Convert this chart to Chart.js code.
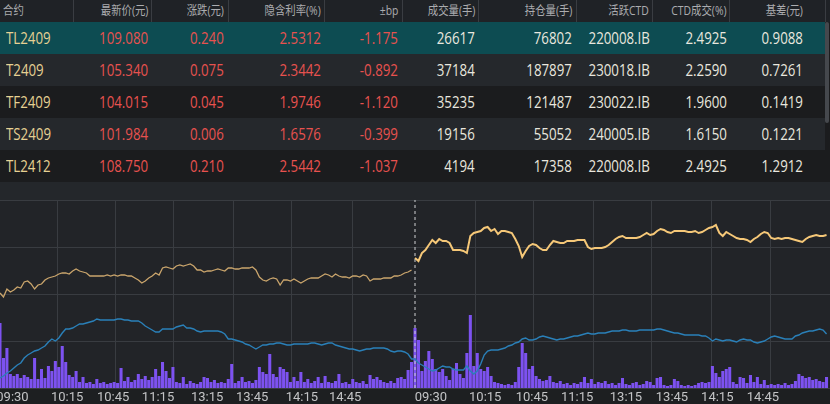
<!DOCTYPE html>
<html lang="zh-CN">
<head>
<meta charset="utf-8">
<title>国债期货</title>
<script src="https://cdn.jsdelivr.net/npm/chart.js@4.4.1/dist/chart.umd.min.js"></script>
<style>
    body {
        margin: 0;
        width: 830px;
        height: 404px;
        overflow: hidden;
        background: #222428;
        font-family: "Open Sans", "Noto Sans CJK SC", sans-serif;
    }
    #quote {
        position: absolute;
        left: 0;
        top: 0;
        width: 830px;
        height: 182px;
        background: #1b1c1e;
    }
    .row {
        position: absolute;
        left: 0;
        width: 825px;
        height: 32px;
        line-height: 32px;
        font-size: 16px;
    }
    .head {
        position: absolute;
        left: 0;
        top: 0;
        width: 830px;
        height: 22px;
        line-height: 22px;
        font-size: 12.5px;
        color: #abacaf;
        background: #1f2226;
    }
    .cell {
        position: absolute;
        top: 0;
        height: 100%;
        text-align: right;
        white-space: nowrap;
        box-sizing: border-box;
    }
    .cell span {
        display: inline-block;
        transform: scaleX(.83);
        transform-origin: 100% 50%;
    }
    .cell.first {
        text-align: left;
    }
    .cell.first span {
        transform-origin: 0 50%;
    }
    .sep {
        position: absolute;
        top: 0;
        width: 1px;
        height: 22px;
        background: #3a3d42;
    }
    #scroll {
        position: absolute;
        left: 825px;
        top: 22px;
        width: 4px;
        height: 101px;
        background: #45484d;
        border-radius: 2px;
    }
    #gap {
        position: absolute;
        left: 0;
        top: 182px;
        width: 830px;
        height: 18px;
        background: #24272b;
    }
    #tickBand {
        position: absolute;
        left: 0;
        top: 388px;
        width: 830px;
        height: 16px;
        background: #1d1f21;
    }
    #chartBox {
        position: absolute;
        left: 0;
        top: 199px;
        width: 830px;
        height: 205px;
    }
</style>
</head>
<body>
<div id="quote"></div>
<div id="gap"></div>
<div id="tickBand"></div>
<div id="chartBox"><canvas id="trendChart"></canvas></div>

<script>
// 行情表
const headers = ['合约', '最新价(元)', '涨跌(元)', '隐含利率(%)', '±bp', '成交量(手)', '持仓量(手)', '活跃CTD', 'CTD成交(%)', '基差(元)'];
const contracts = ['TL2409', 'T2409', 'TF2409', 'TS2409', 'TL2412'];
const lastPrice = ['109.080', '105.340', '104.015', '101.984', '108.750'];
const change = ['0.240', '0.075', '0.045', '0.006', '0.210'];
const impliedRate = ['2.5312', '2.3442', '1.9746', '1.6576', '2.5442'];
const bpChange = ['-1.175', '-0.892', '-1.120', '-0.399', '-1.037'];
const volume = [26617, 37184, 35235, 19156, 4194];
const openInterest = [76802, 187897, 121487, 55052, 17358];
const activeCtd = ['220008.IB', '230018.IB', '230022.IB', '240005.IB', '220008.IB'];
const ctdYield = ['2.4925', '2.2590', '1.9600', '1.6150', '2.4925'];
const basis = ['0.9088', '0.7261', '0.1419', '0.1221', '1.2912'];

// 分时 (TL2409, 两个交易日, 每日120个点)
const tickLabels = ['09:30', '10:15', '10:45', '11:15', '13:15', '13:45', '14:15', '14:45',
                    '09:30', '10:15', '10:45', '11:15', '13:15', '13:45', '14:15', '14:45'];

const trendPrice = [
    108.790, 108.770, 108.810, 108.795, 108.805, 108.820, 108.815, 108.845, 108.850, 108.835,
    108.810, 108.830, 108.835, 108.855, 108.865, 108.870, 108.875, 108.885, 108.890, 108.890,
    108.885, 108.900, 108.910, 108.900, 108.895, 108.890, 108.875, 108.875, 108.875, 108.875,
    108.875, 108.880, 108.875, 108.880, 108.875, 108.880, 108.880, 108.875, 108.875, 108.865,
    108.855, 108.840, 108.850, 108.865, 108.875, 108.890, 108.880, 108.915, 108.920, 108.915,
    108.910, 108.925, 108.930, 108.925, 108.930, 108.935, 108.925, 108.905, 108.905, 108.895,
    108.900, 108.900, 108.905, 108.910, 108.905, 108.900, 108.915, 108.915, 108.910, 108.910,
    108.915, 108.915, 108.915, 108.920, 108.905, 108.870, 108.855, 108.850, 108.860, 108.865,
    108.860, 108.830, 108.855, 108.855, 108.850, 108.860, 108.850, 108.840, 108.850, 108.860,
    108.865, 108.865, 108.865, 108.875, 108.885, 108.880, 108.870, 108.885, 108.875, 108.870,
    108.870, 108.865, 108.875, 108.875, 108.870, 108.880, 108.875, 108.850, 108.860, 108.860,
    108.860, 108.865, 108.865, 108.865, 108.875, 108.875, 108.880, 108.890, 108.895, 108.905,
    108.965, 108.950, 108.990, 109.005, 109.030, 109.055, 109.040, 109.060, 109.050, 109.050,
    109.040, 109.005, 109.005, 109.005, 109.000, 108.990, 109.075, 109.090, 109.095, 109.100,
    109.115, 109.120, 109.100, 109.110, 109.085, 109.100, 109.100, 109.095, 109.090, 109.060,
    109.025, 108.970, 109.000, 109.025, 109.035, 109.030, 109.015, 109.005, 109.005, 109.030,
    109.050, 109.045, 109.040, 109.040, 109.050, 109.050, 109.050, 109.055, 109.055, 109.055,
    109.020, 109.010, 109.015, 109.015, 109.015, 109.020, 109.030, 109.045, 109.060, 109.070,
    109.075, 109.065, 109.065, 109.065, 109.065, 109.070, 109.080, 109.090, 109.080, 109.085,
    109.100, 109.110, 109.105, 109.095, 109.090, 109.100, 109.100, 109.100, 109.100, 109.095,
    109.095, 109.100, 109.090, 109.095, 109.105, 109.115, 109.120, 109.130, 109.090, 109.075,
    109.095, 109.085, 109.075, 109.065, 109.060, 109.060, 109.055, 109.045, 109.060, 109.070,
    109.085, 109.095, 109.090, 109.065, 109.060, 109.065, 109.060, 109.065, 109.065, 109.060,
    109.055, 109.050, 109.045, 109.060, 109.070, 109.075, 109.080, 109.075, 109.075, 109.080
];

const trendOpenInt = [
    72400, 72600, 72900, 73100, 73400, 73700, 73900, 74400, 74700, 74900,
    75100, 75200, 75400, 75600, 76000, 76300, 76100, 76400, 76900, 77300,
    77300, 77400, 77600, 77800, 77800, 77900, 78000, 78100, 78300, 78200,
    78200, 78200, 78200, 78200, 78300, 78300, 78200, 78200, 78100, 78100,
    78100, 77900, 77600, 77400, 77200, 77000, 77000, 77300, 77300, 77300,
    77300, 77500, 77600, 77700, 77400, 77400, 77300, 77100, 77000, 77100,
    77100, 77100, 77100, 77100, 77000, 76800, 76300, 76300, 76200, 76100,
    76000, 75800, 75700, 75500, 75300, 75500, 75700, 75700, 75800, 75800,
    75900, 75900, 75800, 75700, 75700, 75800, 75800, 75800, 75800, 75800,
    75900, 75900, 75800, 75700, 75800, 75900, 75900, 75700, 75600, 75500,
    75400, 75300, 75300, 75200, 75100, 75200, 75300, 75300, 75400, 75400,
    75400, 75400, 75300, 75100, 75000, 75100, 75100, 75000, 74800, 74300,
    74300, 73900, 73700, 73500, 73300, 73100, 73200, 73400, 73600, 73500,
    73500, 73300, 73200, 73200, 73200, 73600, 73100, 72800, 73100, 73800,
    74700, 75100, 75200, 75200, 75200, 75300, 75400, 75600, 75700, 75900,
    76000, 76300, 76400, 76200, 76200, 76300, 76500, 76600, 76500, 76400,
    76300, 76200, 76300, 76300, 76400, 76500, 76600, 76600, 76700, 76800,
    76900, 76800, 76800, 76900, 76900, 76900, 77000, 77100, 77100, 77100,
    77200, 77200, 77100, 77100, 77100, 77200, 77200, 77200, 77200, 77200,
    77300, 77300, 77200, 77100, 77000, 76900, 76900, 76800, 76700, 76700,
    76700, 76700, 76700, 76600, 76600, 76400, 76100, 76300, 76200, 76100,
    76200, 76200, 76100, 76000, 76200, 76300, 76200, 76200, 76000, 75900,
    76000, 76100, 76300, 76500, 76600, 76500, 76400, 76300, 76300, 76300,
    76600, 76700, 76900, 77000, 77100, 77100, 77200, 77300, 77200, 76802
];

const trendVolume = [
    1300, 600, 800, 280, 240, 280, 200, 260, 220, 180,
    600, 180, 380, 200, 440, 340, 540, 420, 840, 520,
    260, 220, 340, 120, 220, 100, 120, 80, 180, 100,
    120, 80, 100, 120, 100, 400, 140, 220, 120, 160,
    280, 180, 240, 160, 220, 380, 240, 520, 340, 200,
    420, 120, 100, 220, 80, 140, 100, 80, 120, 220,
    200, 120, 160, 100, 120, 100, 180, 480, 100, 140,
    220, 120, 140, 100, 160, 420, 320, 280, 680, 280,
    220, 420, 380, 320, 120, 220, 140, 320, 120, 180,
    100, 140, 220, 100, 240, 120, 100, 140, 280, 100,
    120, 80, 180, 120, 100, 140, 80, 260, 180, 220,
    160, 120, 100, 140, 100, 200, 220, 180, 360, 520,
    1200, 960, 340, 540, 740, 580, 380, 320, 380, 240,
    160, 380, 500, 280, 200, 700, 1460, 440, 700, 380,
    340, 420, 240, 120, 100, 80, 60, 80, 60, 120,
    420, 900, 700, 380, 440, 240, 180, 140, 160, 240,
    120, 100, 140, 80, 100, 60, 100, 80, 120, 220,
    100, 180, 80, 120, 100, 140, 80, 100, 60, 100,
    200, 80, 60, 100, 120, 60, 80, 140, 120, 60,
    200, 220, 60, 40, 60, 180, 140, 60, 40, 60,
    40, 60, 100, 120, 100, 120, 440, 300, 220, 340,
    380, 420, 120, 80, 220, 200, 100, 260, 120, 220,
    80, 160, 60, 80, 60, 80, 60, 100, 60, 80,
    140, 280, 240, 200, 220, 160, 180, 140, 120, 220
];

const perDay = 120;

// 表格
const colEdges = [0, 73, 151, 228, 324, 402, 478, 576, 652, 729, 825];
const padRight = [0, 3, 4, 3, 4, 3, 4, 3, 2, 22];
const rowBg = ['#0d4c52', '#25282c', '#1b1c1e', '#25282c', '#1b1c1e'];
const colColor = ['#e6d193', '#e8524f', '#e8524f', '#e8524f', '#e8524f', '#e9e7df', '#e9e7df', '#e9e7df', '#e9e7df', '#e9e7df'];

function cellHtml(text, col, color) {
    const left = colEdges[col];
    const width = colEdges[col + 1] - left;
    const first = col === 0;
    const pad = first ? 'padding-left:' + (color ? 6 : 3) + 'px;' : 'padding-right:' + padRight[col] + 'px;';
    const clr = color ? 'color:' + color + ';' : '';
    return `<div class="cell${first ? ' first' : ''}" style="left:${left}px;width:${width}px;${pad}${clr}"><span>${text}</span></div>`;
}

let quoteHtml = '<div class="head">';
headers.forEach((h, c) => { quoteHtml += cellHtml(h, c, null); });
colEdges.slice(1).forEach(x => { quoteHtml += `<div class="sep" style="left:${x}px"></div>`; });
quoteHtml += '</div>';

contracts.forEach((name, r) => {
    const values = [name, lastPrice[r], change[r], impliedRate[r], bpChange[r],
                    volume[r], openInterest[r], activeCtd[r], ctdYield[r], basis[r]];
    quoteHtml += `<div class="row" style="top:${22 + r * 32}px;background:${rowBg[r]}">`;
    values.forEach((v, c) => { quoteHtml += cellHtml(v, c, colColor[c]); });
    quoteHtml += '</div>';
});
quoteHtml += '<div id="scroll"></div>';
document.getElementById('quote').innerHTML = quoteHtml;

// 分时图
const tickSlots = [3.6, 19.4, 32.7, 45.7, 59.9, 72.9, 87.3, 99.8,
                   124.6, 140.3, 153.8, 166.9, 181, 194.3, 207.4, 220.6];
const gridSlots = [16.5, 33.5, 50.3, 67.4, 84.4, 101.8, 137.4, 154.4, 171.5, 188.5, 205.6, 222.7];
const gridColor = '#393c41';

const toPoints = arr => arr.map((v, i) => ({ x: i, y: v }));

const trendChart = new Chart(document.getElementById('trendChart'), {
    data: {
        datasets: [
            {
                type: 'line',
                data: [{ x: perDay, y: 0 }, { x: perDay, y: 4 }],
                xAxisID: 'x',
                yAxisID: 'yg',
                borderColor: '#cfd0d2',
                borderWidth: 1,
                borderDash: [3, 3],
                pointRadius: 0
            },
            {
                type: 'line',
                label: '最新价',
                data: toPoints(trendPrice),
                xAxisID: 'x',
                yAxisID: 'yp',
                pointRadius: 0,
                borderColor: '#f6c878',
                segment: {
                    borderColor: c => c.p0DataIndex === perDay - 1 ? 'rgba(0,0,0,0)'
                        : (c.p0DataIndex < perDay ? '#caa56c' : '#f6c878'),
                    borderWidth: c => c.p0DataIndex < perDay ? 1.3 : 2
                }
            },
            {
                type: 'line',
                label: '持仓量',
                data: toPoints(trendOpenInt),
                xAxisID: 'x',
                yAxisID: 'yo',
                pointRadius: 0,
                borderColor: '#2a80b9',
                borderWidth: 1.4
            },
            {
                type: 'bar',
                label: '成交量',
                data: toPoints(trendVolume),
                xAxisID: 'x',
                yAxisID: 'yv',
                backgroundColor: '#7d52f0',
                barPercentage: 1,
                categoryPercentage: 0.88
            }
        ]
    },
    options: {
        responsive: true,
        maintainAspectRatio: false,
        animation: false,
        events: [],
        layout: { padding: { top: 1, left: 0, right: 0, bottom: 0 } },
        plugins: { legend: { display: false }, tooltip: { enabled: false } },
        scales: {
            x: {
                type: 'linear',
                position: 'bottom',
                min: 0,
                max: perDay * 2,
                offset: false,
                grid: { display: false, drawTicks: false, offset: false },
                border: { display: false },
                afterBuildTicks: s => { s.ticks = tickSlots.map(v => ({ value: v })); },
                afterFit: s => { s.height = 16; s.paddingLeft = 0; s.paddingRight = 0; },
                ticks: {
                    autoSkip: false,
                    maxRotation: 0,
                    padding: 2,
                    color: '#c3c4c6',
                    font: { family: 'Roboto', size: 13 },
                    callback: (v, i) => tickLabels[i]
                }
            },
            xg: {
                type: 'linear',
                position: 'top',
                min: 0,
                max: perDay * 2,
                afterBuildTicks: s => { s.ticks = gridSlots.map(v => ({ value: v })); },
                afterFit: s => { s.height = 0; s.paddingLeft = 0; s.paddingRight = 0; },
                ticks: { display: false },
                grid: { color: gridColor, drawTicks: false },
                border: { display: false }
            },
            yg: {
                type: 'linear',
                position: 'left',
                min: 0,
                max: 4,
                afterFit: s => { s.width = 0; },
                ticks: { display: false, stepSize: 1 },
                grid: { color: gridColor, drawTicks: false },
                border: { display: false }
            },
            yp: { type: 'linear', display: false, min: 108.315, max: 109.255 },
            yo: { type: 'linear', display: false, min: 71400, max: 90200 },
            yv: { type: 'linear', display: false, min: 0, max: 3760 }
        }
    }
});
</script>
</body>
</html>
